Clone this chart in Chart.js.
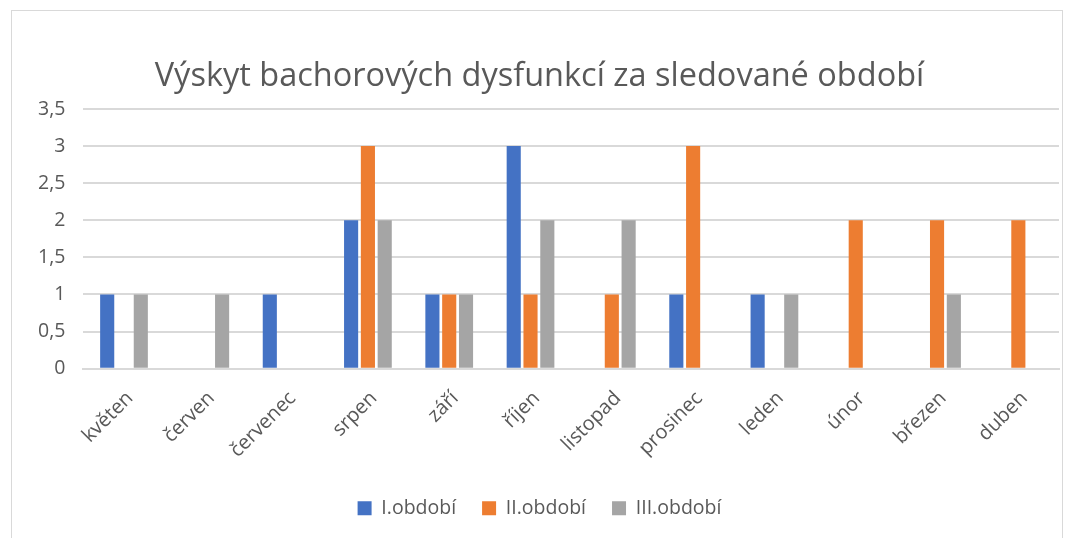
<!DOCTYPE html>
<html><head><meta charset="utf-8">
<script src="https://cdn.jsdelivr.net/npm/chart.js@4/dist/chart.umd.min.js"></script>
<style>
html,body{margin:0;padding:0;background:#fff;}
#wrap{position:absolute;left:0;top:0;width:1075px;height:538px;}
#frame{position:absolute;left:11px;top:10px;width:1052px;height:540px;border:1px solid #d9d9d9;box-sizing:border-box;}
</style></head>
<body>
<div id="wrap"><div id="frame"></div><canvas id="c" width="1075" height="538"></canvas></div>
<script>
const categories = ["květen","červen","červenec","srpen","září","říjen","listopad","prosinec","leden","únor","březen","duben"];
const seriesNames = ["I.období","II.období","III.období"];
const period1 = [1,0,1,2,1,3,0,1,1,0,0,0];
const period2 = [0,0,0,3,1,1,1,3,0,2,2,2];
const period3 = [1,1,0,2,1,2,2,0,1,0,1,0];
const colors = ["#4472C4","#ED7D31","#A5A5A5"];
const titleText = "Výskyt bachorových dysfunkcí za sledované období";
const FONT = "'Open Sans', 'Liberation Sans', sans-serif";
const TXT = "#595959";

const ds = [period1, period2, period3].map((d,i)=>({
  label: seriesNames[i], data: d, backgroundColor: colors[i],
  categoryPercentage: 0.62, barPercentage: 0.84
}));

new Chart(document.getElementById('c'), {
  type: 'bar',
  data: { labels: categories, datasets: ds },
  options: {
    responsive: false, animation: false,
    layout: { padding: { left: 20, right: 16, top: 57, bottom: 10 } },
    plugins: {
      title: { display: true, text: titleText, color: TXT,
        font: { family: FONT, size: 32.5, weight: 'normal' }, padding: { top: 0, bottom: 13 } },
      legend: { position: 'bottom', labels: { color: TXT, font: { family: FONT, size: 19.5 },
        boxWidth: 14, boxHeight: 14, padding: 26 } },
      tooltip: { enabled: false }
    },
    scales: {
      x: { grid: { display: false }, border: { color: '#d9d9d9', width: 2 },
        ticks: { color: TXT, font: { family: FONT, size: 20 }, maxRotation: 45, minRotation: 45, padding: 10, labelOffset: 6 } },
      y: { min: 0, max: 3.5, grid: { color: '#d9d9d9', lineWidth: 2, drawTicks: false }, border: { display: false },
        ticks: { stepSize: 0.5, color: TXT, font: { family: FONT, size: 19.5 }, padding: 18,
          callback: v => String(v).replace('.', ',') } }
    }
  }
});
</script>
</body></html>
